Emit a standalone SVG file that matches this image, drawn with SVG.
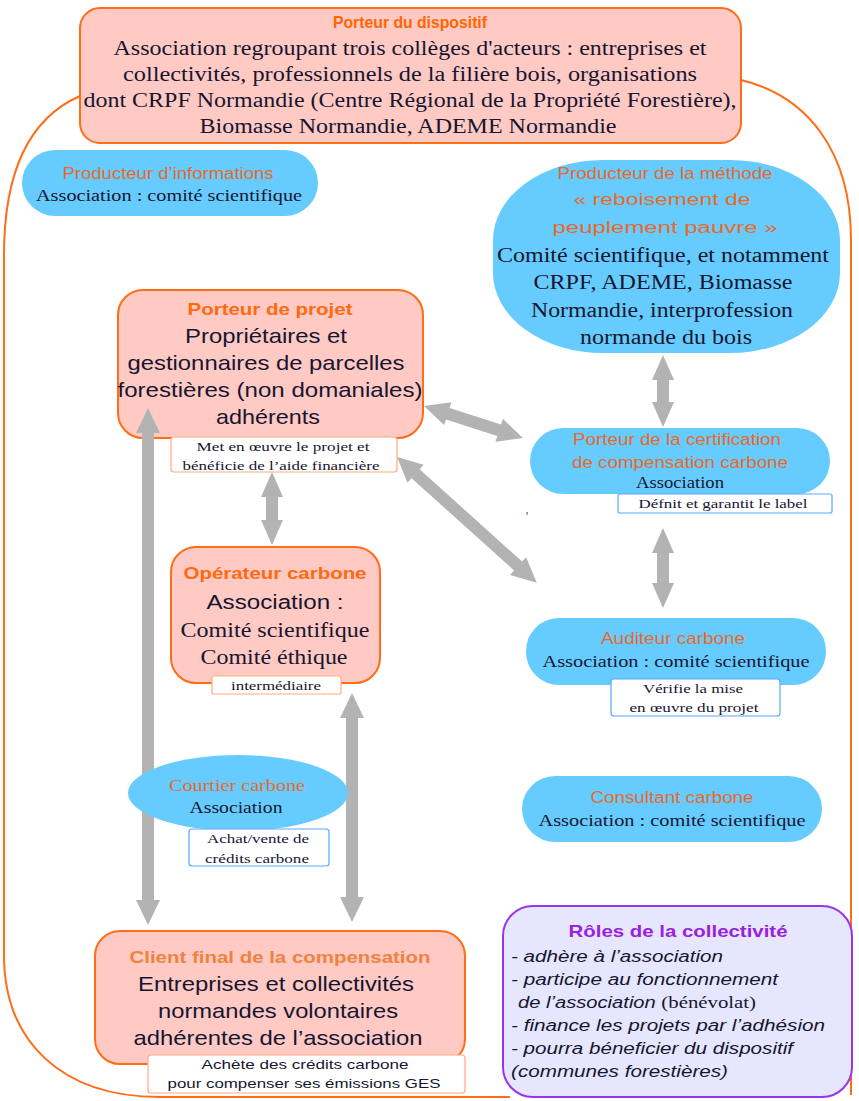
<svg xmlns="http://www.w3.org/2000/svg" width="859" height="1101" viewBox="0 0 859 1101">
<style>
.bg{fill:#ffffff}
.outline{fill:none;stroke:#ff6d16;stroke-width:2}
.pink{fill:#ffc9c4;stroke:#ff6d16;stroke-width:2}
.blue{fill:#66ccff;stroke:none}
.lblo{fill:#ffffff;stroke:#ffab80;stroke-width:1.2}
.lblb{fill:#ffffff;stroke:#5aa8ff;stroke-width:1.2}
.roles{fill:#e6e6ff;stroke:#9933ee;stroke-width:2}
.arr{fill:#b3b3b3;stroke:none}
text{text-anchor:middle}
.ttl{font-family:"Liberation Sans",Arial,sans-serif;font-weight:bold;font-size:16.5px;fill:#ff6600}
.ttl2{font-family:"Liberation Sans",Arial,sans-serif;font-weight:bold;font-size:17px;fill:#ff6a10}
.bt{font-family:"Liberation Sans",Arial,sans-serif;font-size:16px;fill:#e8692a}
.bts{font-family:"Liberation Serif","Times New Roman",serif;font-size:16px;fill:#e8692a}
.sv{font-family:"Liberation Serif","Times New Roman",serif;fill:#161630}
.ss{font-family:"Liberation Sans",Arial,sans-serif;fill:#161630}
.lt{font-family:"Liberation Serif","Times New Roman",serif;font-size:13px;fill:#161630}
.lts{font-family:"Liberation Sans",Arial,sans-serif;font-size:13.5px;fill:#161630}
.rt{font-family:"Liberation Sans",Arial,sans-serif;font-weight:bold;font-size:17px;fill:#9922dd}
.ri{font-family:"Liberation Sans",Arial,sans-serif;font-style:italic;font-size:16px;fill:#161630;text-anchor:start}
</style>
<rect class="bg" x="0" y="0" width="859" height="1101"/>
<g id="frame">
<path class="outline" d="M 80 96 C 30 118, 4 170, 4 255 L 4 955 C 4 1040, 60 1097, 160 1097 L 510 1097"/>
<path class="outline" d="M 741 80 C 808 96, 851 152, 851 240 L 851 1095"/>
</g>
<g id="porteur-dispositif">
<rect class="pink" x="80" y="8" width="661" height="135" rx="20"/>
<text class="ttl" x="410" y="28" textLength="154" lengthAdjust="spacingAndGlyphs">Porteur du dispositif</text>
<text class="sv" font-size="20" x="410" y="55" textLength="593" lengthAdjust="spacingAndGlyphs">Association regroupant trois collèges d'acteurs : entreprises et</text>
<text class="sv" font-size="20" x="410" y="81" textLength="574" lengthAdjust="spacingAndGlyphs">collectivités, professionnels de la filière bois,  organisations</text>
<text class="sv" font-size="20" x="410" y="107" textLength="653" lengthAdjust="spacingAndGlyphs">dont CRPF Normandie (Centre Régional de la Propriété Forestière),</text>
<text class="sv" font-size="20" x="408" y="133" textLength="417" lengthAdjust="spacingAndGlyphs">Biomasse Normandie, ADEME Normandie</text>
</g>
<g id="producteur-informations">
<rect class="blue" x="22" y="150" width="296" height="66" rx="33"/>
<text class="bt" x="168" y="179" textLength="211" lengthAdjust="spacingAndGlyphs">Producteur d’informations</text>
<text class="sv" font-size="16" x="169" y="201" textLength="266" lengthAdjust="spacingAndGlyphs">Association : comité scientifique</text>
</g>
<g id="producteur-methode">
<rect class="blue" x="493" y="160" width="347" height="193" rx="110" ry="80"/>
<text class="bt" x="665" y="179" textLength="215" lengthAdjust="spacingAndGlyphs">Producteur de la méthode</text>
<text class="bt" font-size="21" x="662" y="205" textLength="177" lengthAdjust="spacingAndGlyphs">« reboisement de</text>
<text class="bt" font-size="21" x="665" y="233" textLength="225" lengthAdjust="spacingAndGlyphs">peuplement pauvre »</text>
<text class="sv" font-size="20" x="663" y="262" textLength="332" lengthAdjust="spacingAndGlyphs">Comité scientifique, et notamment</text>
<text class="sv" font-size="20" x="663" y="289" textLength="259" lengthAdjust="spacingAndGlyphs">CRPF, ADEME, Biomasse</text>
<text class="sv" font-size="20" x="662" y="317" textLength="262" lengthAdjust="spacingAndGlyphs">Normandie, interprofession</text>
<text class="sv" font-size="20" x="666" y="344" textLength="172" lengthAdjust="spacingAndGlyphs">normande du bois</text>
</g>
<g id="porteur-projet">
<rect class="pink" x="118" y="290" width="305" height="148" rx="25"/>
<text class="ttl2" x="270" y="315" textLength="165" lengthAdjust="spacingAndGlyphs">Porteur de projet</text>
<text class="ss" font-size="21" x="266" y="343" textLength="162" lengthAdjust="spacingAndGlyphs">Propriétaires et</text>
<text class="ss" font-size="21" x="266" y="370" textLength="277" lengthAdjust="spacingAndGlyphs">gestionnaires de parcelles</text>
<text class="ss" font-size="21" x="270" y="397" textLength="305" lengthAdjust="spacingAndGlyphs">forestières (non domaniales)</text>
<text class="ss" font-size="21" x="268" y="424" textLength="104" lengthAdjust="spacingAndGlyphs">adhérents</text>
<rect class="lblo" x="171" y="437" width="226" height="35" rx="3"/>
<text class="lt" x="283" y="451" textLength="173" lengthAdjust="spacingAndGlyphs">Met en œuvre le projet et</text>
<text class="lt" x="281" y="470" textLength="197" lengthAdjust="spacingAndGlyphs">bénéficie de l’aide financière</text>
</g>
<g id="porteur-certification">
<rect class="blue" x="530" y="428" width="300" height="66" rx="33"/>
<text class="bt" font-size="16.5" x="677" y="445" textLength="208" lengthAdjust="spacingAndGlyphs">Porteur de la certification</text>
<text class="bt" font-size="16.5" x="680" y="468" textLength="216" lengthAdjust="spacingAndGlyphs">de compensation carbone</text>
<text class="sv" font-size="16" x="680" y="488" textLength="88" lengthAdjust="spacingAndGlyphs">Association</text>
<rect class="lblb" x="618" y="494" width="214" height="19" rx="2"/>
<text class="lt" x="723" y="508" textLength="169" lengthAdjust="spacingAndGlyphs">Défnit et garantit le label</text>
<text x="527" y="513" font-family="Liberation Serif, serif" font-size="12" fill="#3355aa">,</text>
</g>
<g id="operateur-carbone">
<rect class="pink" x="171" y="547" width="209" height="136" rx="25"/>
<text class="ttl2" x="275" y="579" textLength="183" lengthAdjust="spacingAndGlyphs">Opérateur carbone</text>
<text class="ss" font-size="20" x="275" y="609" textLength="137" lengthAdjust="spacingAndGlyphs">Association :</text>
<text class="sv" font-size="20" x="275" y="637" textLength="189" lengthAdjust="spacingAndGlyphs">Comité scientifique</text>
<text class="sv" font-size="20" x="274" y="664" textLength="147" lengthAdjust="spacingAndGlyphs">Comité éthique</text>
<rect class="lblo" x="212" y="676" width="129" height="18" rx="2"/>
<text class="lt" x="276" y="690" textLength="90" lengthAdjust="spacingAndGlyphs">intermédiaire</text>
</g>
<g id="auditeur-carbone">
<rect class="blue" x="526" y="618" width="300" height="67" rx="33"/>
<text class="bt" x="673" y="644" textLength="144" lengthAdjust="spacingAndGlyphs">Auditeur carbone</text>
<text class="sv" font-size="16" x="676" y="667" textLength="267" lengthAdjust="spacingAndGlyphs">Association : comité scientifique</text>
<rect class="lblb" x="611" y="679" width="169" height="37" rx="3"/>
<text class="lt" x="693" y="693" textLength="100" lengthAdjust="spacingAndGlyphs">Vérifie la mise</text>
<text class="lt" x="694" y="712" textLength="129" lengthAdjust="spacingAndGlyphs">en œuvre du projet</text>
</g>
<g id="consultant-carbone">
<rect class="blue" x="522" y="776" width="300" height="66" rx="33"/>
<text class="bt" x="672" y="803" textLength="163" lengthAdjust="spacingAndGlyphs">Consultant carbone</text>
<text class="sv" font-size="16" x="672" y="826" textLength="267" lengthAdjust="spacingAndGlyphs">Association : comité scientifique</text>
</g>
<g id="client-final">
<rect class="pink" x="95" y="931" width="370" height="133" rx="25"/>
<text class="ttl2" x="280" y="963" style="fill:#f0823e" textLength="301" lengthAdjust="spacingAndGlyphs">Client final de la compensation</text>
<text class="ss" font-size="21" x="276" y="991" textLength="276" lengthAdjust="spacingAndGlyphs">Entreprises et collectivités</text>
<text class="ss" font-size="21" x="278" y="1018" textLength="240" lengthAdjust="spacingAndGlyphs">normandes volontaires</text>
<text class="ss" font-size="21" x="278" y="1045" textLength="289" lengthAdjust="spacingAndGlyphs">adhérentes de l’association</text>
<rect class="lblo" x="148" y="1055" width="317" height="38" rx="3"/>
<text class="lts" x="305" y="1069" textLength="207" lengthAdjust="spacingAndGlyphs">Achète des crédits carbone</text>
<text class="lts" x="304" y="1088" textLength="273" lengthAdjust="spacingAndGlyphs">pour compenser ses émissions GES</text>
</g>
<g id="roles-collectivite">
<rect class="roles" x="503" y="906" width="349" height="191" rx="30"/>
<text class="rt" x="678" y="937" textLength="219" lengthAdjust="spacingAndGlyphs">Rôles de la collectivité</text>
<text class="ri" x="511" y="962" textLength="212" lengthAdjust="spacingAndGlyphs">- adhère à l’association</text>
<text class="ri" x="511" y="985" textLength="267" lengthAdjust="spacingAndGlyphs">- participe au fonctionnement</text>
<text class="ri" x="518" y="1008" textLength="238" lengthAdjust="spacingAndGlyphs">de l’association <tspan font-family="Liberation Serif, serif" font-style="normal" font-size="16.5">(bénévolat)</tspan></text>
<text class="ri" x="511" y="1031" textLength="314" lengthAdjust="spacingAndGlyphs">- finance les projets par l’adhésion</text>
<text class="ri" x="511" y="1054" textLength="282" lengthAdjust="spacingAndGlyphs">- pourra béneficier du dispositif</text>
<text class="ri" x="511" y="1077" textLength="217" lengthAdjust="spacingAndGlyphs">(communes forestières)</text>
</g>
<g id="connectors">
<polygon class="arr" transform="translate(148,408) rotate(90)" points="0,0 25,-12 25,-6 492,-6 492,-12 517,0 492,12 492,6 25,6 25,12"/>
<polygon class="arr" transform="translate(352,693) rotate(90)" points="0,0 25,-12 25,-6 204,-6 204,-12 229,0 204,12 204,6 25,6 25,12"/>
<polygon class="arr" transform="translate(272,472) rotate(90)" points="0,0 25,-11 25,-6 48,-6 48,-11 73,0 48,11 48,6 25,6 25,11"/>
<polygon class="arr" transform="translate(663,355) rotate(90)" points="0,0 25,-11 25,-6 47,-6 47,-11 72,0 47,11 47,6 25,6 25,11"/>
<polygon class="arr" transform="translate(663,528) rotate(90)" points="0,0 25,-11 25,-6 55,-6 55,-11 80,0 55,11 55,6 25,6 25,11"/>
<polygon class="arr" transform="translate(424,406) rotate(17.9)" points="0,0 25,-12 25,-6 79,-6 79,-12 104,0 79,12 79,6 25,6 25,12"/>
<polygon class="arr" transform="translate(397,457) rotate(42)" points="0,0 25,-12 25,-6 163,-6 163,-12 188,0 163,12 163,6 25,6 25,12"/>
</g>
<g id="courtier-carbone">
<ellipse class="blue" cx="238" cy="793" rx="110" ry="38"/>
<text class="bts" x="237" y="791" textLength="136" lengthAdjust="spacingAndGlyphs">Courtier carbone</text>
<text class="sv" font-size="17" x="236" y="813" textLength="93" lengthAdjust="spacingAndGlyphs">Association</text>
<rect class="lblb" x="189" y="829" width="140" height="37" rx="3"/>
<text class="lt" x="258" y="843" textLength="102" lengthAdjust="spacingAndGlyphs">Achat/vente de</text>
<text class="lt" x="257" y="863" textLength="104" lengthAdjust="spacingAndGlyphs">crédits carbone</text>
</g>
</svg>
